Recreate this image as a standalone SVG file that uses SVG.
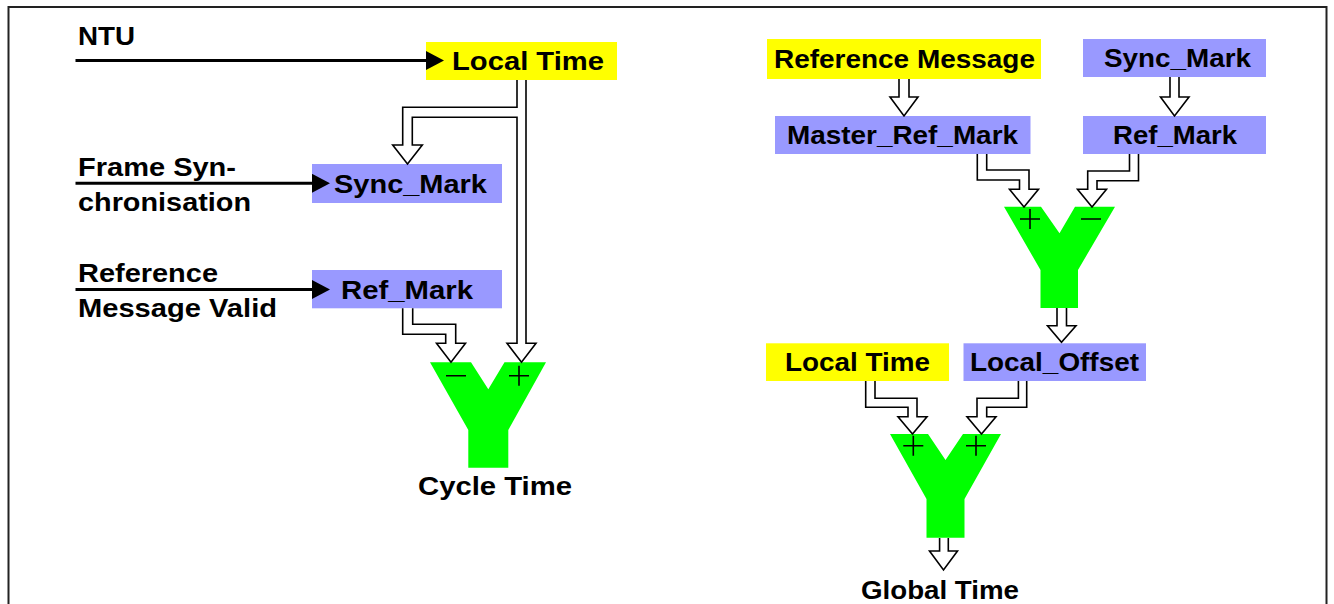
<svg xmlns="http://www.w3.org/2000/svg" width="1334" height="604" viewBox="0 0 1334 604">
<defs>
<style>
.lbl{font-family:"Liberation Sans",Arial,Helvetica,sans-serif;font-weight:bold;font-size:26px;fill:#000}
.yel{fill:#FFFF00}
.blu{fill:#9999FF}
.ysum{fill:#00FF00}
.flow{fill:#fff;stroke:#000;stroke-width:1.6;stroke-linejoin:miter}
.sig{stroke:#000;stroke-width:1.6;fill:none}
.inp{stroke:#000;stroke-width:3;fill:none}
</style>
<marker id="ah" viewBox="0 0 18 19" refX="0" refY="9.5" markerWidth="18" markerHeight="19" markerUnits="userSpaceOnUse" orient="auto">
<path d="M0,0 L18,9.5 L0,19 z" fill="#000"/>
</marker>
</defs>
<rect x="8.5" y="7" width="1318" height="620" fill="#fff" stroke="#222" stroke-width="2"/>

<g id="label-ntu"><text class="lbl" x="78" y="45" textLength="57" lengthAdjust="spacingAndGlyphs">NTU</text></g>
<g id="label-frame-sync">
<text class="lbl" x="78" y="175.5" textLength="158" lengthAdjust="spacingAndGlyphs">Frame Syn-</text>
<text class="lbl" x="78" y="210.5" textLength="173" lengthAdjust="spacingAndGlyphs">chronisation</text>
</g>
<g id="label-ref-valid">
<text class="lbl" x="78" y="281.7" textLength="140" lengthAdjust="spacingAndGlyphs">Reference</text>
<text class="lbl" x="78" y="316.7" textLength="199" lengthAdjust="spacingAndGlyphs">Message Valid</text>
</g>

<g id="node-local-time-left">
<rect class="yel" x="426" y="42" width="191" height="38"/>
<text class="lbl" x="452" y="70" textLength="152" lengthAdjust="spacingAndGlyphs">Local Time</text>
</g>
<g id="node-sync-mark-left">
<rect class="blu" x="312" y="164" width="190" height="39"/>
<text class="lbl" x="334" y="193" textLength="153" lengthAdjust="spacingAndGlyphs">Sync_Mark</text>
</g>
<g id="node-ref-mark-left">
<rect class="blu" x="312" y="270" width="190" height="38.3"/>
<text class="lbl" x="341" y="299.3" textLength="132" lengthAdjust="spacingAndGlyphs">Ref_Mark</text>
</g>
<g id="node-sum-cycle">
<polygon class="ysum" points="430,362.3 471,362.3 488.3,389.3 504.5,362.3 546,362.3 508.3,430 508.3,467.7 468.3,467.7 468.3,430"/>
<path class="sig" d="M446,375.7 H466 M509,375.7 H529 M519,365.7 V385.7"/>
<text class="lbl" x="418" y="495" textLength="154" lengthAdjust="spacingAndGlyphs">Cycle Time</text>
</g>

<g id="node-reference-message">
<rect class="yel" x="767" y="39" width="274" height="40"/>
<text class="lbl" x="774" y="68.3" textLength="261" lengthAdjust="spacingAndGlyphs">Reference Message</text>
</g>
<g id="node-sync-mark-right">
<rect class="blu" x="1083" y="39" width="183" height="38"/>
<text class="lbl" x="1104" y="66.7" textLength="147" lengthAdjust="spacingAndGlyphs">Sync_Mark</text>
</g>
<g id="node-master-ref-mark">
<rect class="blu" x="775" y="116" width="255.5" height="38"/>
<text class="lbl" x="787" y="144" textLength="231" lengthAdjust="spacingAndGlyphs">Master_Ref_Mark</text>
</g>
<g id="node-ref-mark-right">
<rect class="blu" x="1083" y="116" width="183" height="38"/>
<text class="lbl" x="1113" y="144" textLength="124" lengthAdjust="spacingAndGlyphs">Ref_Mark</text>
</g>
<g id="node-sum-offset">
<polygon class="ysum" points="1004,206.7 1041,206.7 1059.5,233.3 1075,206.7 1115,206.7 1078,270 1078,308 1040.5,308 1040.5,270"/>
<path class="sig" d="M1020,219 H1040 M1030,209 V229 M1081,219 H1101"/>
</g>
<g id="node-local-time-right">
<rect class="yel" x="766" y="343.3" width="183" height="37.7"/>
<text class="lbl" x="785" y="370.7" textLength="145" lengthAdjust="spacingAndGlyphs">Local Time</text>
</g>
<g id="node-local-offset">
<rect class="blu" x="963.5" y="343.3" width="182.5" height="37.7"/>
<text class="lbl" x="970" y="370.7" textLength="169" lengthAdjust="spacingAndGlyphs">Local_Offset</text>
</g>
<g id="node-sum-global">
<polygon class="ysum" points="890,434 928,434 945.5,460 963,434 1001,434 964.5,499 964.5,537.8 926.5,537.8 926.5,499"/>
<path class="sig" d="M903.3,445.7 H923.3 M913.3,435.7 V455.7 M966,445.7 H986 M976,435.7 V455.7"/>
<text class="lbl" x="861" y="599" textLength="158" lengthAdjust="spacingAndGlyphs">Global Time</text>
</g>

<g id="connectors">
<line class="inp" x1="75.5" y1="60.5" x2="426" y2="60.5" marker-end="url(#ah)"/>
<line class="inp" x1="75.5" y1="183.3" x2="312" y2="183.3" marker-end="url(#ah)"/>
<line class="inp" x1="75.5" y1="289.5" x2="312" y2="289.5" marker-end="url(#ah)"/>
<path class="flow" d="M517,80 V107.3 H402.7 V145 H392.7 L407.5,164 L422.3,145 H412.3 V117.3 H517 V343.3 H507 L521.5,362.3 L536,343.3 H526 V80"/>
<path class="flow" d="M402.7,308.3 V334.3 H445.7 V343.3 H436.5 L451,362.3 L465.5,343.3 H455.7 V324.3 H412.7 V308.3"/>
<path class="flow" d="M899,79 V97 H890 L904,116 L918,97 H909 V79"/>
<path class="flow" d="M1170,77 V97 H1160.5 L1174.5,116 L1189,97 H1179 V77"/>
<path class="flow" d="M977.3,154 V180 H1019.5 V189.3 H1009.5 L1024,207 L1038.5,189.3 H1029 V170 H986.7 V154"/>
<path class="flow" d="M1138.5,154 V180.7 H1097 V189.3 H1106.5 L1092,207 L1077.5,189.3 H1087.7 V171 H1129.5 V154"/>
<path class="flow" d="M1057,308 V325.7 H1047.5 L1061.5,342.3 L1076,325.7 H1066.5 V308"/>
<path class="flow" d="M865.7,381 V407.3 H908 V416.7 H898 L912.5,434 L927,416.7 H917 V398.3 H875 V381"/>
<path class="flow" d="M1026.7,381 V407.3 H986.7 V416.7 H996 L981.5,434 L967,416.7 H977 V398.3 H1018.4 V381"/>
<path class="flow" d="M939.6,538 V551 H929.5 L943.5,570 L957.5,551 H948.3 V538"/>
</g>
</svg>
